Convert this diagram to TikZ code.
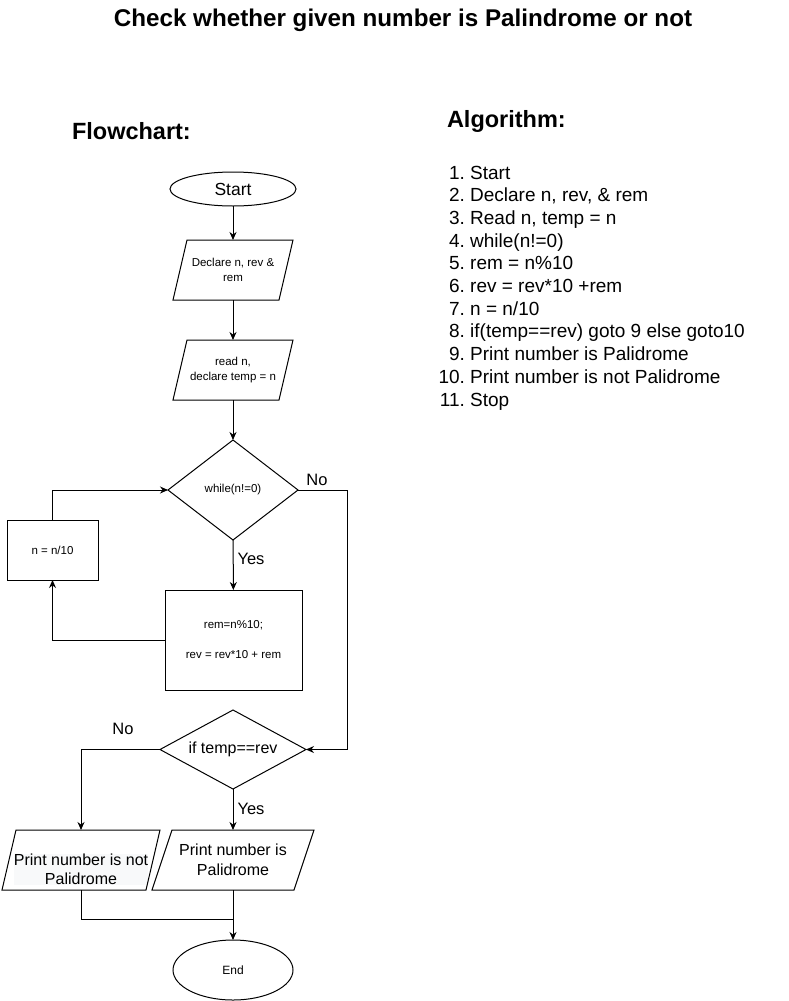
\documentclass[tikz,border=0pt]{standalone}
\usepackage{fontspec}
\setmainfont{Liberation Sans}
\usetikzlibrary{shapes.geometric,arrows.meta}
\newcommand\fs[2]{\fontsize{#1}{#2}\selectfont}
\newcommand\parapath[2]{\draw[line width=1pt] ([xshift=#2]#1.north west) -- ([xshift=#2]#1.north east) -- ([xshift=-#2]#1.south east) -- ([xshift=-#2]#1.south west) -- cycle;}
\begin{document}
\begin{tikzpicture}[x=1pt,y=-1pt,
  every node/.style={inner sep=0pt, outer sep=0pt},
  line/.style={line width=1pt},
  arr/.style={line width=1pt,-{Stealth[length=8pt,width=7pt]}},
  term/.style={ellipse, draw, line width=1pt},
  box/.style={rectangle, draw, line width=1pt},
  dec/.style={diamond, draw, line width=1pt},
  lbl/.style={font=\fs{16.5}{20}},
  small/.style={font=\fs{11.5}{15}, align=center},
]
\useasboundingbox (0,0) rectangle (789,1001);
\fill[white] (0,0) rectangle (789,1001);

% titles
\node (title) at (403,20) {\fs{24.2}{28}\bfseries Check whether given number is Palindrome or not};
\node[anchor=west] (fc) at (72,131) {\fs{23.5}{28}\bfseries Flowchart:};
\node[anchor=west] (alg) at (447,121) {\fs{23.5}{28}\bfseries Algorithm:};

% algorithm list
\node[anchor=base west] (list) at (438.5,179) {\fs{19}{22.7}%
\begin{tabular}[t]{@{}r@{\ }l@{}}
1. & Start\\
2. & Declare n, rev, \& rem\\
3. & Read n, temp = n\\
4. & while(n!=0)\\
5. & rem = n\%10\\
6. & rev = rev*10 +rem\\
7. & n = n/10\\
8. & if(temp==rev) goto 9 else goto10\\
9. & Print number is Palidrome\\
10. & Print number is not Palidrome\\
11. & Stop
\end{tabular}};

% flowchart nodes
\node[term, minimum width=126, minimum height=34, font=\fs{17.5}{20}] (start) at (233,189) {Start};
\node[minimum width=106, minimum height=60, small] (decl) at (233,270) {Declare n, rev \&\\rem};
\parapath{decl}{7}
\node[minimum width=106, minimum height=60, small] (read) at (233,370) {read n,\\declare temp = n};
\parapath{read}{7}
\node[dec, minimum width=130, minimum height=100, aspect=1.3, small] (while) at (233,490) {while(n!=0)};
\node[box, minimum width=91, minimum height=60, small] (nbox) at (52.5,550) {n = n/10};
\node[box, minimum width=137, minimum height=100, font=\fs{11.5}{30}, align=center] (rem) at (233.5,640) {rem=n\%10;\\rev = rev*10 + rem};
\node[dec, minimum width=146, minimum height=79, aspect=1.85, font=\fs{16}{20}] (if) at (233,749.5) {if temp==rev};
\node[fill={rgb,255:red,248;green,249;blue,250}, align=center, font=\fs{16}{19.5}] (pnottext) at (81,869.5) {Print number is not\\Palidrome};
\node[minimum width=144, minimum height=60] (pnot) at (81,860) {};
\parapath{pnot}{7}
\node[minimum width=142, minimum height=60, align=center, font=\fs{16}{20}] (pyes) at (233,860) {Print number is\\Palidrome};
\parapath{pyes}{10}
\node[term, minimum width=120, minimum height=60, font=\fs{12}{14}] (end) at (233,970) {End};

\coordinate (c1) at (347,490);
\coordinate (join) at (233,919);

% connectors
\draw[arr] (start) -- (decl);
\draw[arr] (decl) -- (read);
\draw[arr] (read) -- (while);
\draw[arr] (while) -- (rem);
\draw[arr] (while.east) -- (c1) |- (if.east);
\draw[arr] (rem.west) -| (nbox.south);
\draw[arr] (nbox.north) |- (while.west);
\draw[arr] (if.west) -| (pnot.north);
\draw[arr] (if) -- (pyes);
\draw[line] (pnot.south) |- (join);
\draw[arr] (pyes.south) -- (end.north);

% labels
\node[lbl] (lno1) at (317,480) {No};
\node[lbl] (lyes1) at (251,559) {Yes};
\node[lbl] (lno2) at (123,729) {No};
\node[lbl] (lyes2) at (251,809) {Yes};
\end{tikzpicture}
\end{document}
